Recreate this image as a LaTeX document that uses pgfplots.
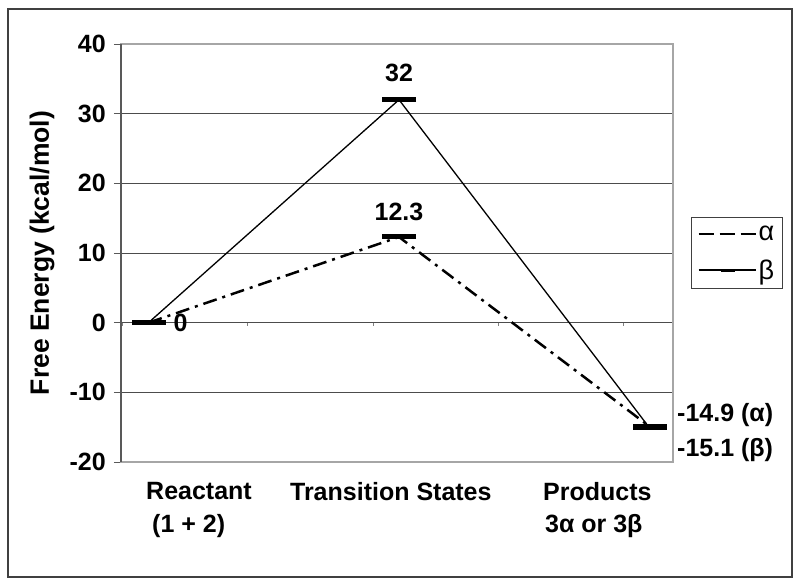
\documentclass[border=0pt]{standalone}
\usepackage{pgfplots}
\pgfplotsset{compat=1.18}
\usepackage{fontspec}
\setmainfont{Liberation Sans}
\newcommand{\lab}{\bfseries\fontsize{25}{29}\selectfont}
\pgfplotsset{
  alphaleg/.style={legend image code/.code={\draw[##1] (0pt,0pt) -- (57pt,0pt);}},
  betaleg/.style={legend image code/.code={\draw[##1] (0pt,0pt) -- (57pt,0pt); \draw[line width=3pt] (22pt,-0.8pt) -- (36pt,-0.8pt);}},
}
\begin{document}
\begin{tikzpicture}[x=1pt,y=1pt]
\useasboundingbox (0,0) rectangle (800,-586);
\fill[white] (0,0) rectangle (800,-586);
\draw[line width=1.5pt, black!75] (8,-9) rectangle (792,-577);
\begin{axis}[
  at={(121pt,-462pt)}, anchor=south west,
  scale only axis, width=552pt, height=418pt,
  xmin=0.8902, xmax=3.0938,
  ymin=-20, ymax=40,
  ytick={-20,-10,0,10,20,30,40},
  yticklabels={-20,-10,0,10,20,30,40},
  xtick=\empty,
  ymajorgrids,
  grid style={black!70, line width=1pt},
  axis line style={draw=black!35, line width=1.3pt},
  tick align=outside, ytick pos=left,
  major tick length=7pt,
  tick style={black!65, line width=1pt},
  yticklabel style={font=\lab, inner sep=0pt, xshift=-8pt},
  ylabel={Free Energy (kcal/mol)},
  ylabel style={font=\bfseries\fontsize{26.5}{30}\selectfont, at={(axis description cs:-0.143,0.5)}, anchor=center},
  clip=false,
  legend style={at={(rel axis cs:1.033,0.586)}, anchor=north west,
    draw=black!75, line width=1pt, font=\fontsize{27}{30}\selectfont,
    inner xsep=6pt, inner ysep=6pt, row sep=14pt,
    nodes={inner sep=2pt}},
  legend cell align=left,
]
% beta (solid)
\addplot[black, line width=1.3pt, forget plot] coordinates {(1,0) (2,32) (3,-15.1)};
% alpha (dash-dot)
\addplot[black, line width=2.5pt, dash pattern=on 14pt off 6pt on 3pt off 6pt, forget plot] coordinates {(1,0) (2,12.3) (3,-14.9)};
% level bars
\addplot[only marks, mark=-, mark size=17pt, mark options={line width=5pt, black}, forget plot]
  coordinates {(1,0) (2,32) (2,12.3) (3,-14.9) (3,-15.1)};
% legend
\addlegendimage{alphaleg, black, line width=2pt, dash pattern=on 15pt off 6pt}
\addlegendentry{α}
\addlegendimage{betaleg, black, line width=1.3pt}
\addlegendentry{β}
% left axis line
\draw[black!65, line width=1.3pt] (rel axis cs:0,0) -- (rel axis cs:0,1);
% small ticks on zero line
\draw[black!50, line width=0.8pt] (axis cs:0.894,0) -- ([yshift=-3pt]axis cs:0.894,0);
\draw[black!50, line width=0.8pt] (axis cs:1.393,0) -- ([yshift=-3pt]axis cs:1.393,0);
\draw[black!50, line width=0.8pt] (axis cs:1.896,0) -- ([yshift=-3pt]axis cs:1.896,0);
\draw[black!50, line width=0.8pt] (axis cs:2.395,0) -- ([yshift=-3pt]axis cs:2.395,0);
\draw[black!50, line width=0.8pt] (axis cs:2.894,0) -- ([yshift=-3pt]axis cs:2.894,0);
% value labels
\node[font=\lab] at (axis cs:2,32) [yshift=27pt] {32};
\node[font=\lab] at (axis cs:2,12.3) [yshift=25pt] {12.3};
\node[font=\lab] at (axis cs:1,0) [xshift=32pt] {0};
\node[font=\lab, anchor=west, inner sep=0pt] at (axis cs:3,-15) [xshift=27.5pt, yshift=12pt] {-14.9 (α)};
\node[font=\lab, anchor=west, inner sep=0pt] at (axis cs:3,-15) [xshift=27.5pt, yshift=-23pt] {-15.1 (β)};
% category labels
\node[font=\lab, anchor=west, inner sep=0pt] at (rel axis cs:0.0453,0) [yshift=-29.5pt] {Reactant};
\node[font=\lab, anchor=west, inner sep=0pt] at (rel axis cs:0.0562,0) [yshift=-64pt] {(1 + 2)};
\node[font=\lab, anchor=west, inner sep=0pt] at (rel axis cs:0.306,0) [yshift=-29.5pt] {Transition States};
\node[font=\lab, anchor=west, inner sep=0pt] at (rel axis cs:0.7645,0) [yshift=-29.5pt] {Products};
\node[font=\lab, anchor=west, inner sep=0pt] at (rel axis cs:0.768,0) [yshift=-64pt] {3α or 3β};
\end{axis}
\end{tikzpicture}
\end{document}
